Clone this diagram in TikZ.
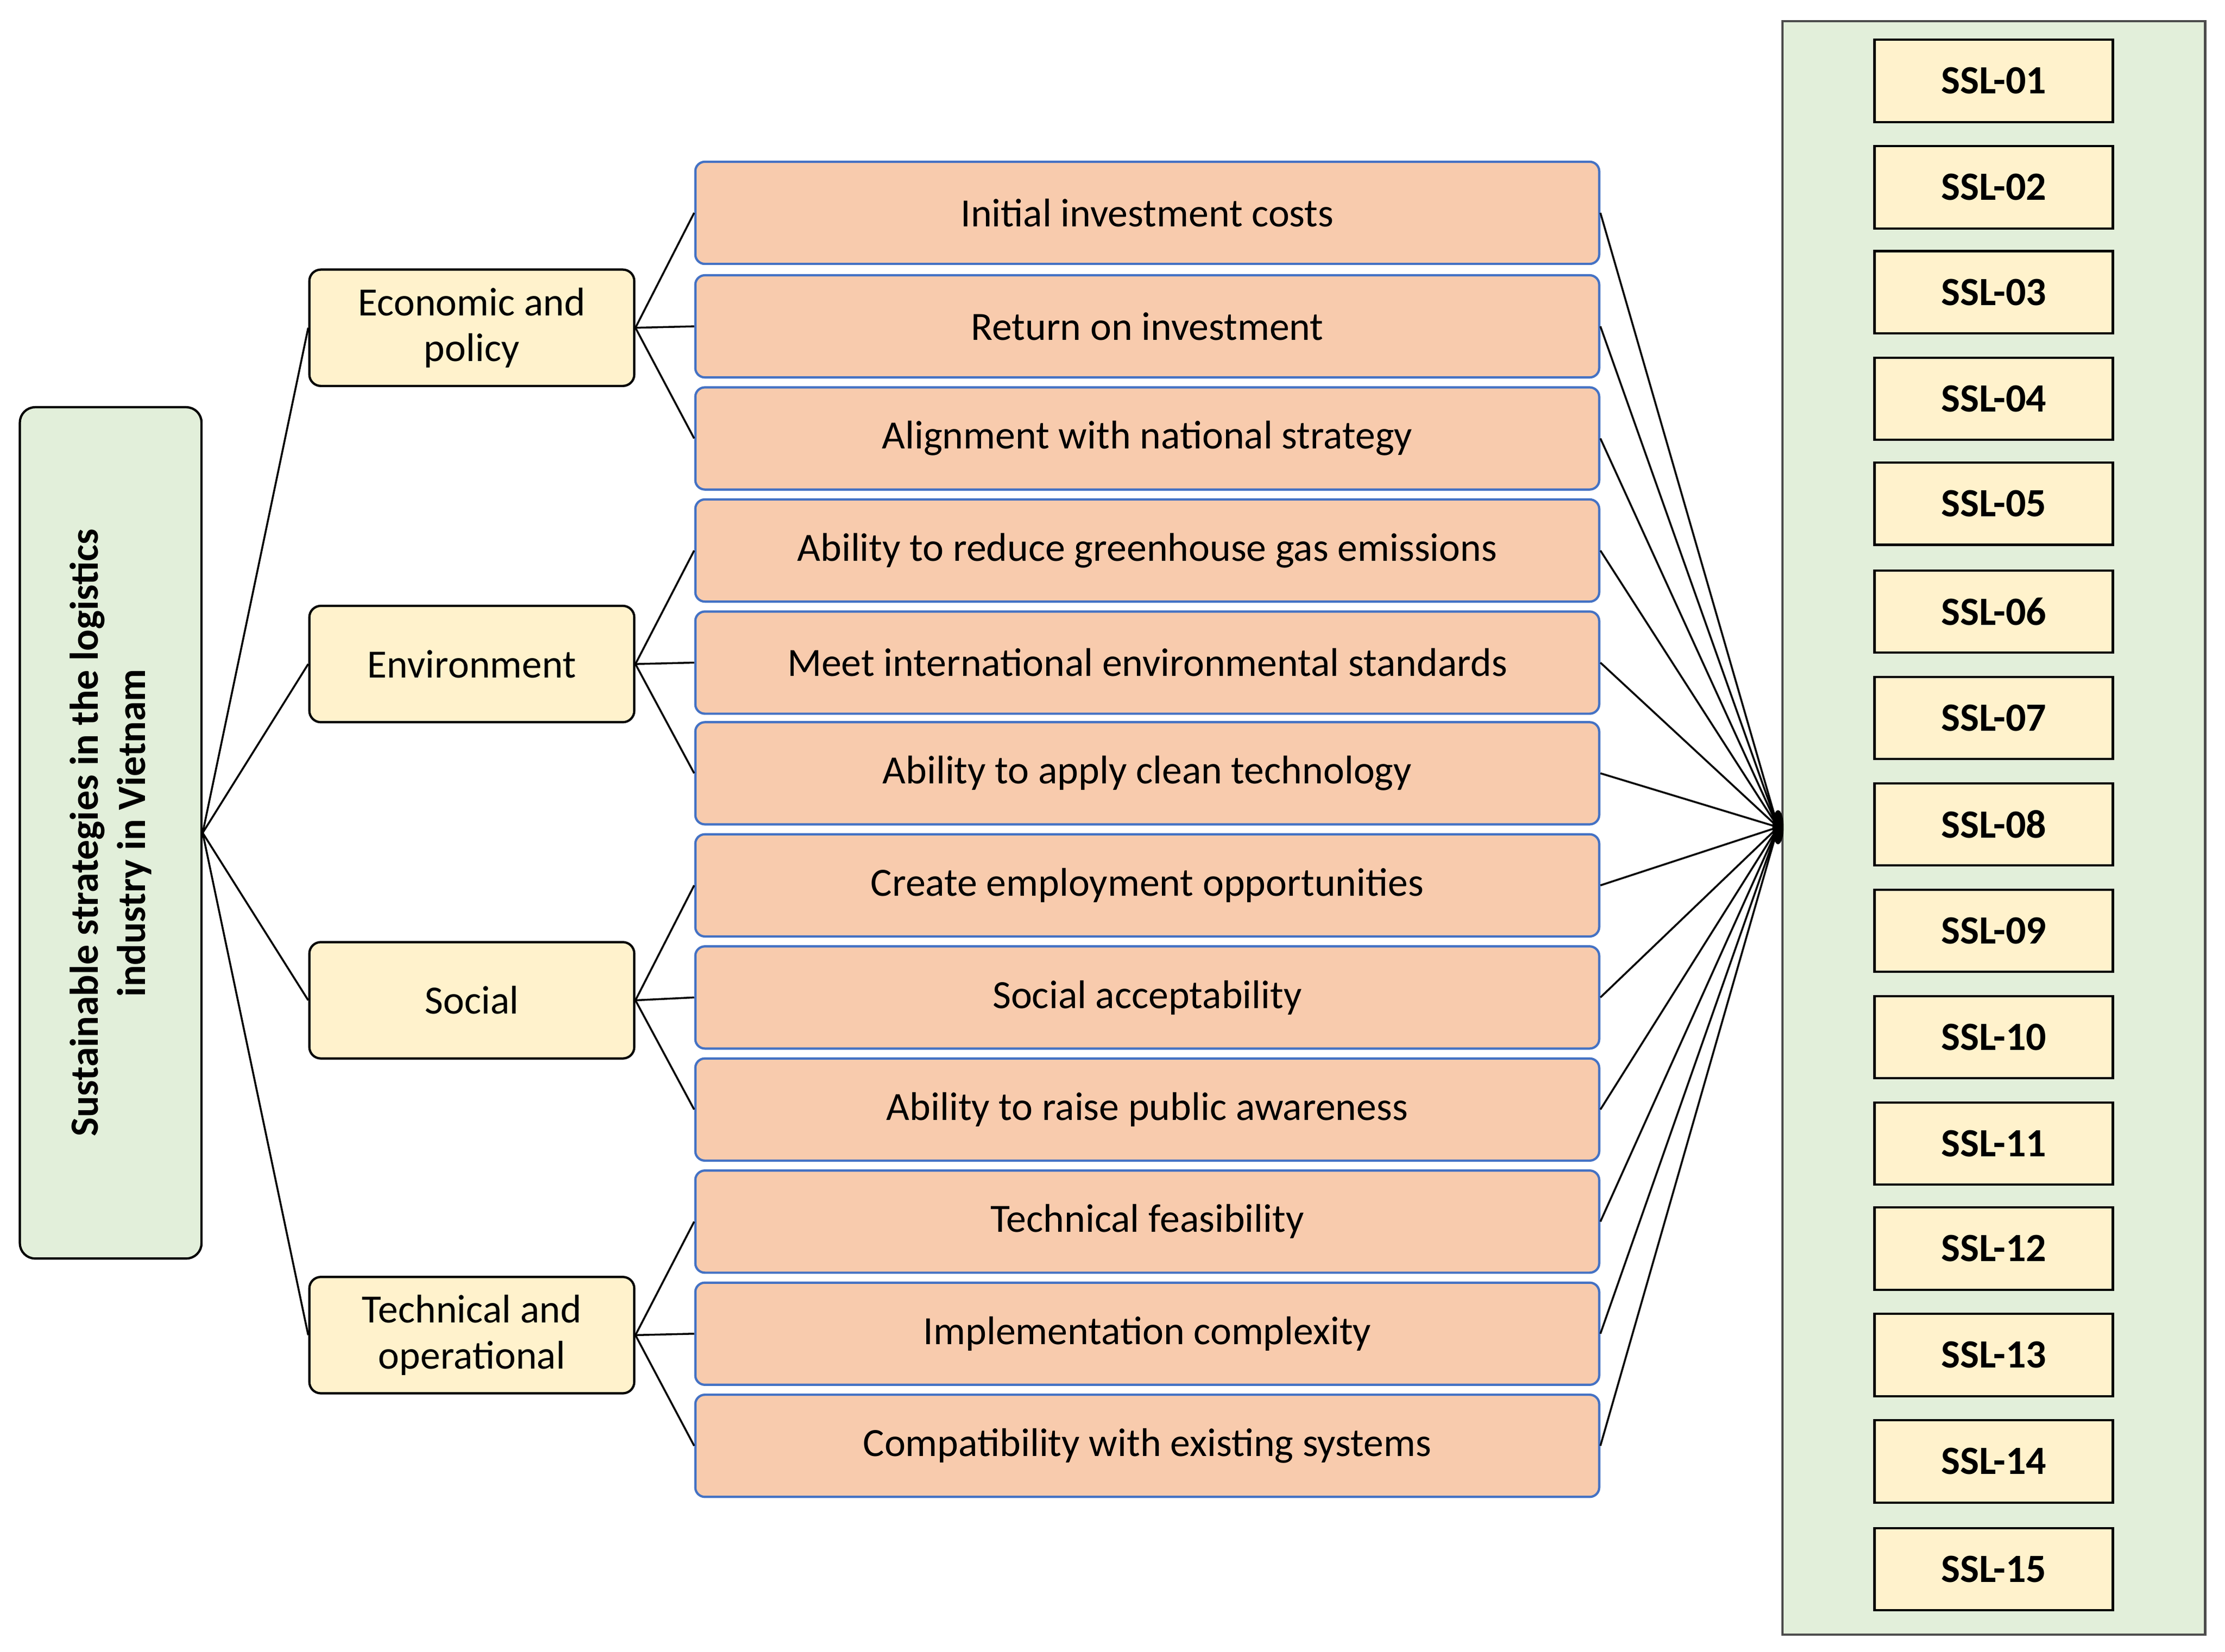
\documentclass[tikz,border=0pt]{standalone}
\usepackage{fontspec}
\setmainfont{Carlito}
\definecolor{gfill}{HTML}{E2EFDA}
\definecolor{yfill}{HTML}{FFF2CC}
\definecolor{ofill}{HTML}{F8CBAD}
\definecolor{bdr}{HTML}{4472C4}
\begin{document}
\begin{tikzpicture}[x=0.026135cm,y=-0.026135cm,
  root/.style={draw=black,line width=1.2pt,fill=gfill,rounded corners=8pt,minimum width=128*0.026135cm,minimum height=600*0.026135cm,inner sep=0pt},
  cat/.style={draw=black,line width=1.2pt,fill=yfill,rounded corners=6pt,minimum width=229*0.026135cm,minimum height=82*0.026135cm,align=center,font=\fontsize{21}{24}\selectfont,inner sep=0pt},
  crit/.style={draw=bdr,line width=1.2pt,fill=ofill,rounded corners=5pt,minimum width=637*0.026135cm,minimum height=72*0.026135cm,font=\fontsize{21}{24}\selectfont,inner sep=0pt},
  ssl/.style={draw=black,line width=1.2pt,fill=yfill,minimum width=168*0.026135cm,minimum height=58*0.026135cm,font=\bfseries\fontsize{21}{24}\selectfont,inner sep=0pt},
  ln/.style={line width=1pt}]
\useasboundingbox (0,0) rectangle (1568,1164);
\node[draw=black!70,line width=1.2pt,fill=gfill,minimum width=298*0.026135cm,minimum height=1137*0.026135cm,inner sep=0pt] (rbox) at (1405,583.5) {};
\node[root] (root) at (78,587) {};
\node[rotate=90,align=center,font=\bfseries\fontsize{21}{25}\selectfont] at (78,587) {Sustainable strategies in the logistics\\industry in Vietnam};
\node[cat] (c1) at (332.5,231) {Economic and\\policy};
\node[cat] (c2) at (332.5,468) {Environment};
\node[cat] (c3) at (332.5,705) {Social};
\node[cat] (c4) at (332.5,941) {Technical and\\operational};
\foreach \i/\y/\t in {1/150/Initial investment costs,2/230/Return on investment,3/309/Alignment with national strategy,4/388/Ability to reduce greenhouse gas emissions,5/467/Meet international environmental standards,6/545/Ability to apply clean technology,7/624/Create employment opportunities,8/703/Social acceptability,9/782/Ability to raise public awareness,10/861/Technical feasibility,11/940/Implementation complexity,12/1019/Compatibility with existing systems}
  \node[crit] (k\i) at (808.5,\y) {\t};
\foreach \i/\y in {01/57,02/132,03/206,04/281,05/355,06/431,07/506,08/581,09/656,10/731,11/806,12/880,13/955,14/1030,15/1106}
  \node[ssl] (s\i) at (1405,\y) {SSL-\i};
\coordinate (j) at (1253,583);
\foreach \c in {c1,c2,c3,c4} \draw[ln] (root.east) -- (\c.west);
\foreach \k in {1,2,3} \draw[ln] (c1.east) -- (k\k.west);
\foreach \k in {4,5,6} \draw[ln] (c2.east) -- (k\k.west);
\foreach \k in {7,8,9} \draw[ln] (c3.east) -- (k\k.west);
\foreach \k in {10,11,12} \draw[ln] (c4.east) -- (k\k.west);
\foreach \k in {1,...,12} \draw[ln] (k\k.east) -- (j);
\fill (j) ellipse (4 and 12);
\end{tikzpicture}
\end{document}
